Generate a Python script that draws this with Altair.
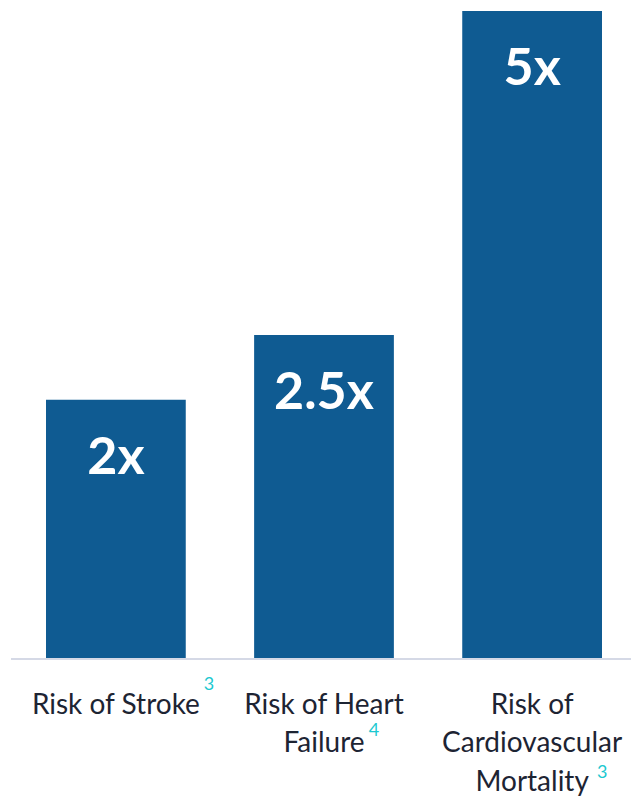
import altair as alt
import pandas as pd

categories = ["Risk of Stroke", "Risk of Heart|Failure", "Risk of|Cardiovascular|Mortality"]
values = [2, 2.5, 5]
value_labels = ["2x", "2.5x", "5x"]
footnotes = ["3", "4", "3"]

df = pd.DataFrame({"cat": categories, "value": values, "label": value_labels, "note": footnotes})

BAR = "#0F5B92"
FONT = "Lato"

x = alt.X("cat:N", sort=categories, title=None,
          scale=alt.Scale(range=[35, 591], paddingInner=0.3285, paddingOuter=0),
          axis=alt.Axis(labelExpr="split(datum.label, '|')", labelAngle=0,
                        labelFont=FONT, labelFontSize=28, labelColor="#1D2433",
                        labelLineHeight=38.5, labelPadding=32, labelLimit=400,
                        labelOverlap=False, labelBound=False, ticks=False,
                        domain=False))
y = alt.Y("value:Q", title=None, scale=alt.Scale(domain=[0, 5], nice=False), axis=None)

bars = alt.Chart(df).mark_bar(color=BAR).encode(x=x, y=y)
base_rule = alt.Chart(df).transform_aggregate(n="count()").transform_calculate(
    zero="0").mark_rule(color="#D5D9E6", strokeWidth=2).encode(
    y=alt.Y("zero:Q"), x=alt.value(0), x2=alt.value(620))
text = alt.Chart(df).mark_text(color="white", font=FONT, fontWeight="bold", fontSize=52,
                               baseline="middle", dy=58).encode(
    x=alt.X("cat:N", sort=categories), y="value:Q", text="label:N")

note_pos = [(93, 673.5), (50, 720), (70, 761.5)]
notes = []
for cat, (dx, py) in zip(categories, note_pos):
    notes.append(alt.Chart(df).transform_filter(alt.datum.cat == cat).mark_text(
        color="#1CC8D0", font=FONT, fontSize=18, baseline="middle", dx=dx).encode(
        x=alt.X("cat:N", sort=categories), y=alt.value(py), text="note:N"))

chart = alt.layer(bars, base_rule, text, *notes).properties(
    width=620, height=648,
    padding={"left": 11, "top": 11, "right": 0, "bottom": 138},
    autosize=alt.AutoSizeParams(type="none"),
).configure_view(stroke=None)

chart.save("out.html", embed_options={"renderer": "svg", "actions": False})
